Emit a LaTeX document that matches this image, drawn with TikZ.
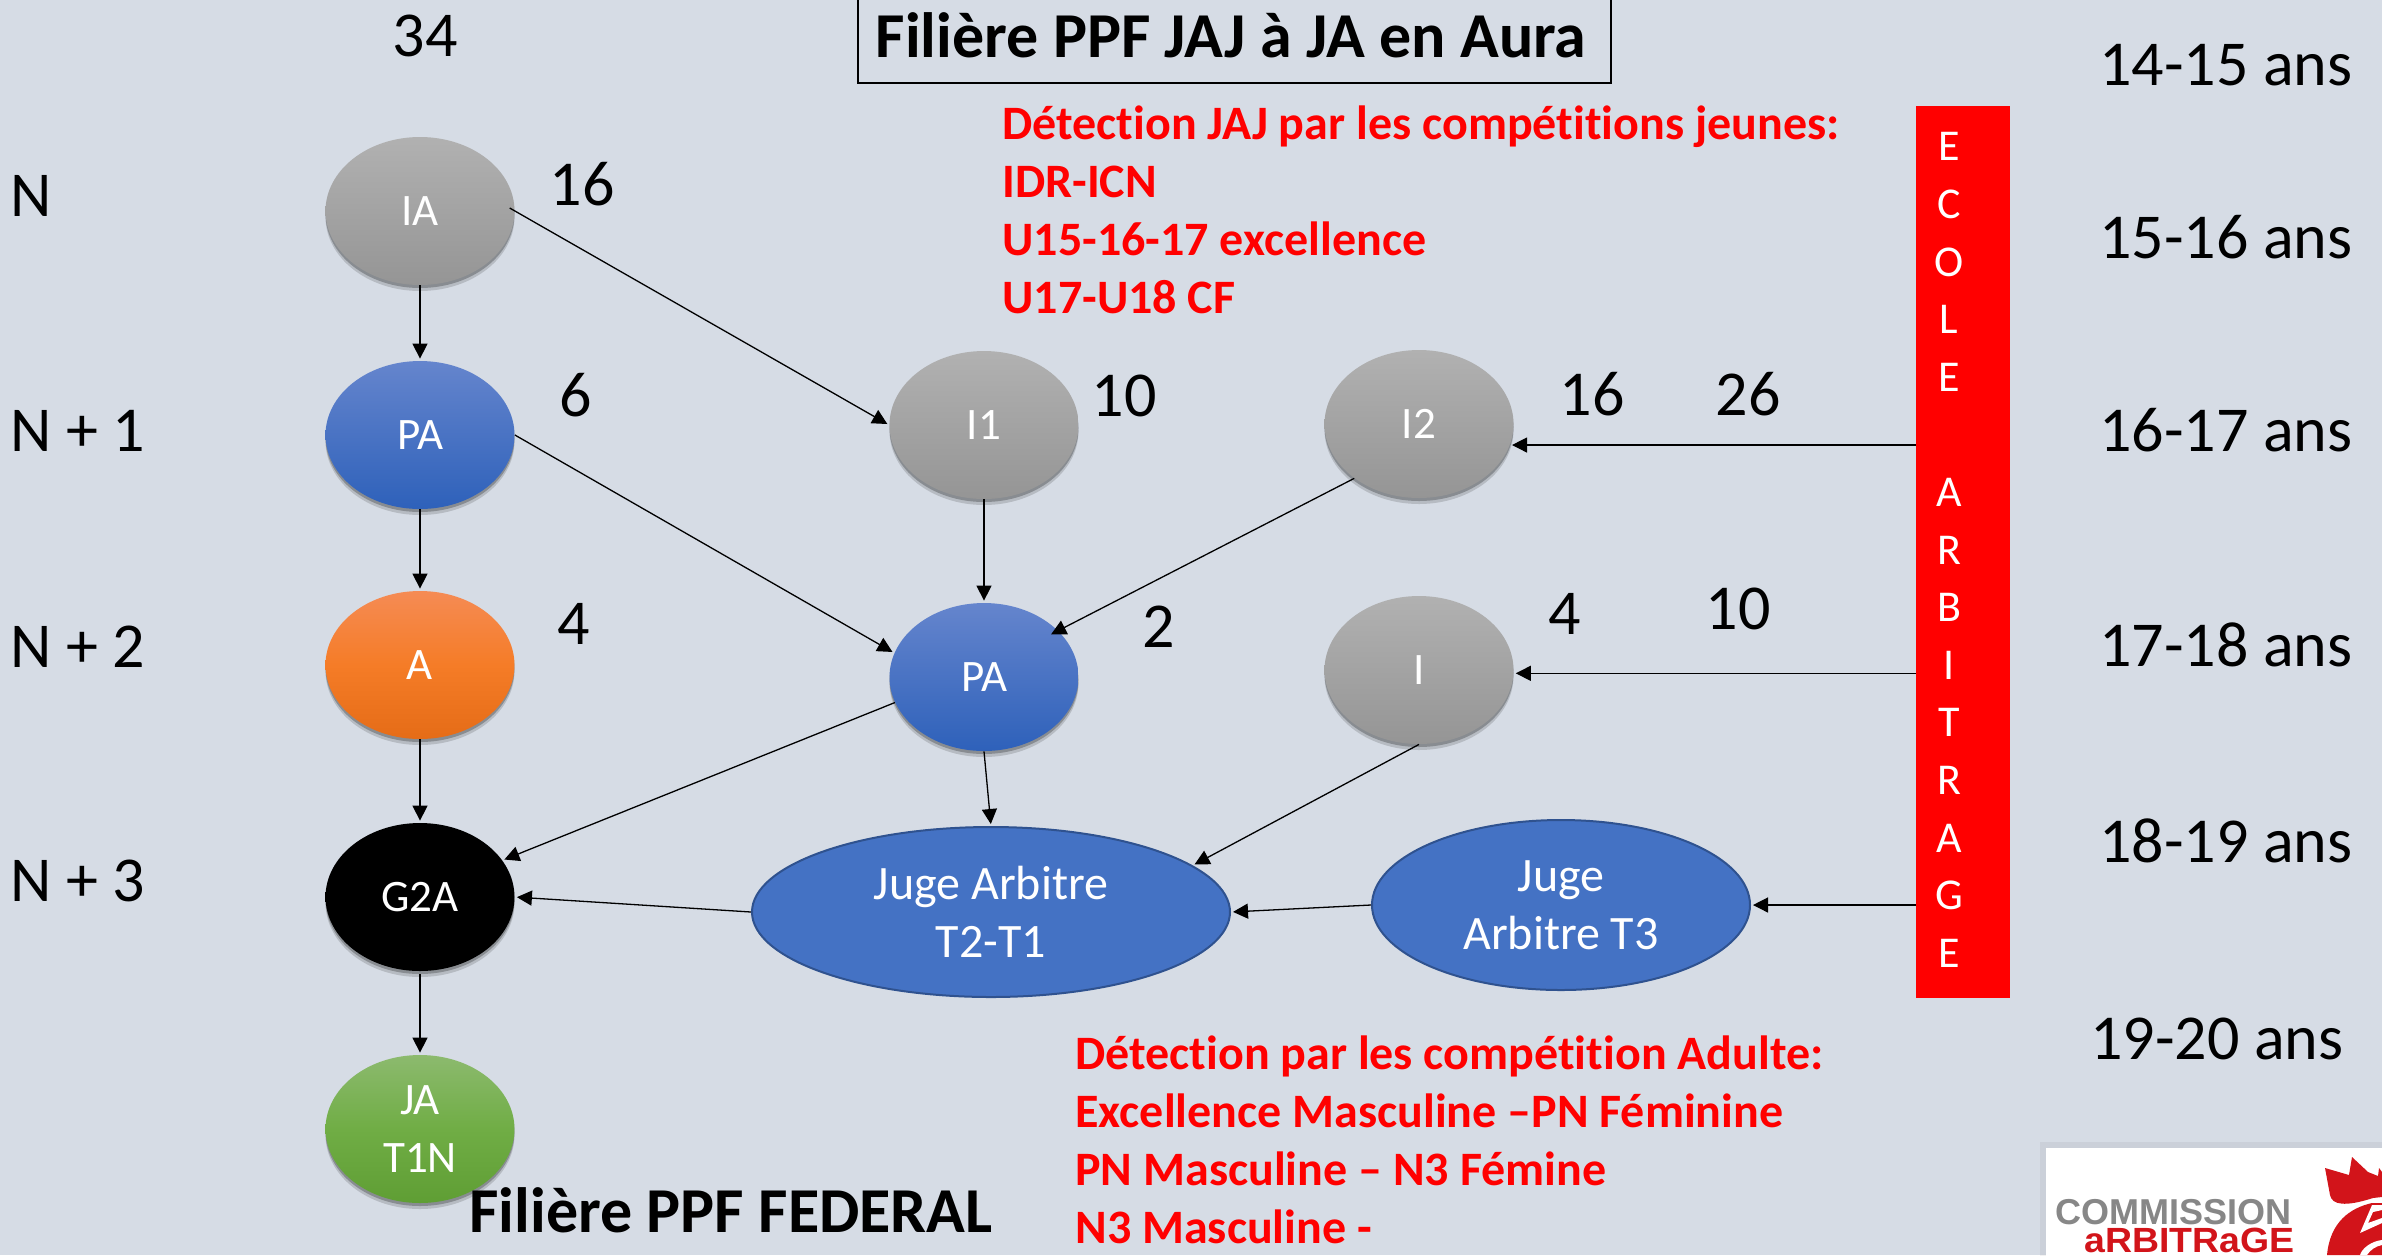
\documentclass[tikz,border=0pt]{standalone}
\usepackage{fontspec}
\setmainfont[Ligatures=NoCommon]{Carlito}
\newfontfamily\logofont{Liberation Sans}
\usetikzlibrary{arrows.meta,shapes.geometric,shadows,calc}
\definecolor{bgc}{HTML}{D6DCE5}
\definecolor{juge}{HTML}{4472C4}
\definecolor{jugeline}{HTML}{2F528F}
\definecolor{logored}{HTML}{D2141A}
\definecolor{gtop}{HTML}{B1B1B1}
\definecolor{gbot}{HTML}{959595}
\definecolor{btop}{HTML}{6585CD}
\definecolor{bbot}{HTML}{2E61BA}
\definecolor{otop}{HTML}{F58B54}
\definecolor{omid}{HTML}{F57C27}
\definecolor{obot}{HTML}{E56C17}
\definecolor{lgtop}{HTML}{8CBA6E}
\definecolor{lgmid}{HTML}{70AD45}
\definecolor{lgbot}{HTML}{5F9E34}
\pgfdeclareverticalshading{blackshade}{100bp}{color(0bp)=(black);color(62bp)=(black);color(75bp)=(black);color(88bp)=(black!72!white);color(100bp)=(black!72!white)}
\tikzset{
  softshadow/.style={drop shadow={shadow xshift=0pt,shadow yshift=-3pt,opacity=.15,fill=black},
                     drop shadow={shadow xshift=0pt,shadow yshift=-1.5pt,opacity=.25,fill=black}},
  bubble/.style={ellipse,minimum width=94.5pt,minimum height=74pt,inner sep=0pt,text=white,align=center,softshadow,
                 font=\fontsize{22.5}{29}\selectfont},
  graybub/.style={bubble,top color=gtop,bottom color=gbot},
  bluebub/.style={bubble,top color=btop,bottom color=bbot},
  orangebub/.style={bubble,top color=otop,bottom color=obot,middle color=omid},
  blackbub/.style={bubble,shading=blackshade},
  greenbub/.style={bubble,top color=lgtop,bottom color=lgbot,middle color=lgmid},
  jugebub/.style={ellipse,fill=juge,draw=jugeline,line width=1pt,inner sep=0pt,text=white,align=center,
                  font=\fontsize{24}{29}\selectfont},
  conn/.style={-{Triangle[length=7.5pt,width=7.5pt]},line width=.65pt,black,shorten >=1pt},
  lbl/.style={inner sep=0pt,text height=20pt,text depth=0pt,font=\fontsize{32}{36}\selectfont},
  rowlbl/.style={lbl,anchor=west},
  agelbl/.style={lbl,anchor=west},
  redtxt/.style={inner sep=0pt,anchor=north west,align=left,text=red,font=\fontsize{24}{29}\selectfont\bfseries},
  bigbold/.style={inner sep=0pt,text height=20pt,text depth=0pt,font=\fontsize{32}{36}\selectfont\bfseries},
}
\begin{document}
\begin{tikzpicture}[x=.5pt,y=-.5pt]
\useasboundingbox (0,0) rectangle (2382,1255);
\fill[bgc] (0,0) rectangle (2382,1255);
\begin{scope}
\clip (0,0) rectangle (2382,1255);
% title
\node[draw=black,line width=1.2pt,fill=none,minimum width=376.5pt,minimum height=60pt,anchor=south west,inner sep=0pt] (titlebox) at (857,84) {};
\node[bigbold] (title) at (1231,37) {Filière PPF JAJ à JA en Aura};
% bubbles
\node[graybub] (ia) at (420,211) {IA};
\node[bluebub] (pa) at (420,435) {PA};
\node[orangebub] (a) at (420,665) {A};
\node[blackbub] (g2a) at (420,897) {G2A};
\node[greenbub] (ja) at (420,1129) {JA\\T1N};
\node[graybub] (i1) at (984,425) {I1};
\node[bluebub] (pb) at (984,677) {PA};
\node[graybub] (i2) at (1419,424) {I2};
\node[graybub] (ib) at (1419,670) {I};
\node[jugebub,minimum width=239pt,minimum height=85pt] (jt) at (991,912) {Juge Arbitre\\T2-T1};
\node[jugebub,minimum width=189pt,minimum height=85pt] (jtt) at (1561,905) {Juge\\Arbitre T3};
% ecole
\node[fill=red,minimum width=47pt,minimum height=446pt,inner sep=0pt] (ecole) at (1963,552) {};
\node[inner sep=0pt,text=white,align=center,font=\fontsize{22}{28.8}\selectfont] (ecoletxt) at (1949,550)
  {E\\C\\O\\L\\E\\\mbox{}\\A\\R\\B\\I\\T\\R\\A\\G\\E};
% connectors
\draw[conn] (ia.south) -- (pa.north);
\draw[conn] (pa.south) -- (a.north);
\draw[conn] (a.south) -- (g2a.north);
\draw[conn] ([yshift=-1.5pt]g2a.south) -- (ja.north);
\draw[conn,shorten <=-3pt] (ia.east) -- (i1.west);
\draw[conn] (i1.south) -- (pb.north);
\draw[conn] (pa.east) -- (pb.165);
\draw[conn,shorten >=-4pt] (i2.220) -- (pb.32);
\draw[conn] (pb.196) -- (g2a.24);
\draw[conn] (pb.south) -- (jt.north);
\draw[conn] (ib.south) -- (jt.13);
\draw[conn] (jt.west) -- (g2a.east);
\draw[conn] (jtt.west) -- (jt.east);
\draw[conn] (ecole.west |- i2.-13) -- (i2.-13);
\draw[conn] (ecole.west |- ib.-2) -- (ib.-2);
\draw[conn] (ecole.west |- jtt.east) -- (jtt.east);
% numbers
\node[lbl] (n34) at (425,36) {34};
\node[lbl] (n16a) at (582,185) {16};
\node[lbl] (n6) at (576,396) {6};
\node[lbl] (n10a) at (1124,396) {10};
\node[lbl] (n16b) at (1592,395) {16};
\node[lbl] (n26) at (1748,395) {26};
\node[lbl] (n4a) at (574,624) {4};
\node[lbl] (n2) at (1159,627) {2};
\node[lbl] (n4b) at (1565,614) {4};
\node[lbl] (n10b) at (1738,609) {10};
% rows
\node[rowlbl] (r0) at (10,196) {N};
\node[rowlbl] (r1) at (10,431) {N + 1};
\node[rowlbl] (r2) at (10,647) {N + 2};
\node[rowlbl] (r3) at (10,881) {N + 3};
% ages
\node[agelbl] (a1) at (2099,65) {14-15 ans};
\node[agelbl] (a2) at (2099,238) {15-16 ans};
\node[agelbl] (a3) at (2099,431) {16-17 ans};
\node[agelbl] (a4) at (2099,646) {17-18 ans};
\node[agelbl] (a5) at (2099,842) {18-19 ans};
\node[agelbl] (a6) at (2090,1039) {19-20 ans};
% red text
\node[redtxt] (det1) at (1002,105) {Détection JAJ par les compétitions jeunes:\\IDR-ICN\\U15-16-17 excellence\\U17-U18 CF};
\node[redtxt] (det2) at (1075,1035) {Détection par les compétition Adulte:\\Excellence Masculine –PN Féminine\\PN Masculine – N3 Fémine\\N3 Masculine -};
\node[bigbold,anchor=west] (fed) at (469,1212) {Filière PPF FEDERAL};
% logo
\fill[black,opacity=.05] (2040,1142) rectangle (2400,1300);
\fill[white] (2046,1148) rectangle (2400,1300);
\node[inner sep=0pt,anchor=base west,text=black!47,font=\fontsize{18}{20}\logofont\bfseries] (logo1) at (2055,1224) {COMMISSION};
\node[inner sep=0pt,anchor=base east,text=logored,font=\fontsize{17.5}{20}\logofont\bfseries] (logo2) at (2295,1252)
  {\scalebox{1.07}[1]{aRBITRaGE}};
\fill[logored] (2325,1168) -- (2349,1175) -- (2352,1157) -- (2368,1172) -- (2378,1176) -- (2379,1168) -- (2382,1172) -- (2382,1197) -- (2373,1198) .. controls (2345,1207) and (2332,1205) .. (2330,1195) -- cycle;
\fill[logored] (2372,1203) .. controls (2350,1208) and (2330,1222) .. (2327,1255) -- (2382,1255) -- (2382,1203) -- cycle;
\fill[white] (2372,1205) -- (2360,1233) -- (2382,1223) -- (2382,1218) -- (2368,1223) -- (2373,1212) -- (2382,1210) -- (2382,1205) -- cycle;
\fill[white] (2360,1255) .. controls (2362,1248) and (2372,1241) .. (2382,1240) -- (2382,1245) .. controls (2376,1246) and (2370,1250) .. (2367,1255) -- cycle;
\end{scope}
\end{tikzpicture}
\end{document}
